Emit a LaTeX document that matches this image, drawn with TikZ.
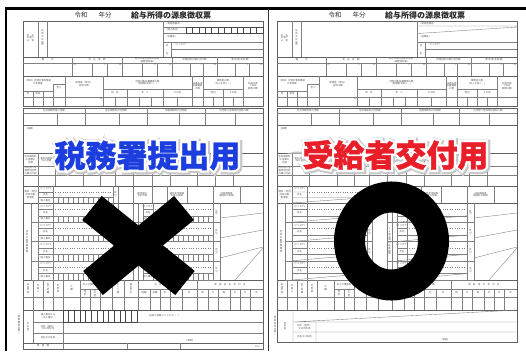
\documentclass[tikz,border=0pt]{standalone}
\usepackage{fontspec}
\newfontfamily\cjk{Noto Sans CJK JP}
\newfontfamily\cjkheavy{Noto Sans CJK JP}[BoldFeatures={FakeBold=1.1}]
\newfontfamily\cjkhalo{Noto Sans CJK JP}[BoldFeatures={FakeBold=16}]
\newfontfamily\cjkshade{Noto Sans CJK JP}[BoldFeatures={FakeBold=23}]
\usetikzlibrary{calc}
\tikzset{
  gl/.style={draw=black!50, line width=0.38pt},
  go/.style={draw=black!62, line width=0.5pt},
  gd/.style={draw=black!50, line width=0.38pt, dotted},
  gb/.style={draw=black!72, line width=0.6pt},
  tx/.style={font=\cjk\fontsize{2.4}{2.8}\selectfont, text=black!65, inner sep=0pt, align=center},
  ttl/.style={font=\cjk\fontsize{6.5}{7}\selectfont, text=black!80, inner sep=0pt},
  ttlb/.style={font=\cjk\bfseries\fontsize{8}{9}\selectfont, text=black!85, inner sep=0pt},
  bigtxt/.style={font=\fontsize{31}{31}\selectfont, inner sep=0pt},
  xbar/.style={line width=31pt, draw=black},
}
\newcommand{\halotext}[2]{%
  \makebox[0pt][l]{\kern1pt\raisebox{-1pt}{\cjkshade\bfseries\color{black!22}#2}}%
  \makebox[0pt][l]{\cjkhalo\bfseries\color{white}#2}%
  {\cjkheavy\bfseries\color[RGB]{#1}#2}%
}
\newcommand{\boxrow}[6][gl]{%
  \pgfmathtruncatemacro\nn{#4-1}%
  \foreach \k in {1,...,\nn}{\draw[#1] ({#2+(#3-#2)*\k/#4},#5)--({#2+(#3-#2)*\k/#4},#6);}%
}
\newcommand{\formgrid}[1]{%
\node[ttl] (#1t1) at (58,15) {令和};
\node[ttl] (#1t2) at (82,15) {年分};
\node[ttlb] (#1t3) at (148,15) {給与所得の源泉徴収票};
% top block
\draw[go] (0,21) rectangle (240,57);
\draw[gl] (15,21)--(15,57) (24,21)--(24,57) (140,21)--(140,57) (140,42)--(240,42) (148,42)--(148,57) (148,49.5)--(240,49.5);
\node[tx] (#1a1) at (7.5,38) {支　払\\を受け\\る　者};
\node[tx] (#1a2) at (19.5,38) {住\\所\\又\\は\\居\\所};
\node[tx,anchor=west] (#1a3) at (142,23.8) {（受給者番号）};
\node[tx,anchor=west] (#1a4) at (142,36.5) {（役職名）};
\node[tx] (#1a5) at (144,45.8) {氏};
\node[tx] (#1a6) at (144,53.2) {名};
\node[tx,anchor=west] (#1a7) at (150,44.6) {（フリガナ）};
% row 2
\draw[go] (0,57) rectangle (240,76);
\draw[gl] (0,63)--(240,63) (49,57)--(49,76) (99,57)--(99,76) (149,57)--(149,76) (194,57)--(194,76);
\foreach \a/\b in {49/99,99/149,149/194,194/240}{%
  \draw[gl] ({\a+(\b-\a)*0.4},63)--({\a+(\b-\a)*0.4},76) ({\a+(\b-\a)*0.7},63)--({\a+(\b-\a)*0.7},76);
  \node[tx] (#1en\a) at ({\b-2},65) {円};
  \node[tx] (#1sen\a) at ({\a+(\b-\a)*0.7-2},65) {千};}
\node[tx] (#1b1) at (24.5,60) {種　　　別};
\node[tx] (#1b2) at (74,60) {支　払　金　額};
\node[tx] (#1b3) at (124,60) {給与所得控除後の金額\\（調整控除後）};
\node[tx] (#1b4) at (171.5,60) {所得控除の額の合計額};
\node[tx] (#1b5) at (217,60) {源 泉 徴 収 税 額};
\node[tx] (#1b6) at (51.5,65) {内};
% row 3
\draw[go] (0,76) rectangle (240,106);
\draw[gl] (0,97)--(240,97) (42,76)--(42,106) (80,76)--(80,106) (169,76)--(169,106) (180,76)--(180,106) (220,76)--(220,106)
  (80,89)--(169,89) (104,89)--(104,106) (140,89)--(140,106) (180,89)--(220,89) (200,89)--(200,106)
  (30,84)--(42,84) (30,84)--(30,106) (0,91)--(30,91) (10,91)--(10,106) (20,91)--(20,106)
  (92,97)--(92,106) (116,97)--(116,106) (128,97)--(128,106) (154,97)--(154,106) (190,97)--(190,106) (210,97)--(210,106);
\node[tx] (#1c1) at (15,82) {（源泉）控除対象配偶者\\の有無等};
\node[tx] (#1c2) at (36,87.5) {老人};
\node[tx] (#1c3) at (5,94) {有};
\node[tx] (#1c4) at (15,94) {従有};
\node[tx] (#1c5) at (61,84) {配偶者（特別）\\控除の額};
\node[tx] (#1c6) at (124.5,82.5) {控除対象扶養親族の数\\（配偶者を除く。）};
\node[tx] (#1c7) at (92,93) {特　定};
\node[tx] (#1c8) at (122,93) {老　人};
\node[tx] (#1c9) at (154.5,93) {その他};
\node[tx] (#1c10) at (174.5,86) {16歳未満\\扶養親族\\の数};
\node[tx] (#1c11) at (200,82.5) {障害者の数\\（本人を除く。）};
\node[tx] (#1c12) at (190,93) {特別};
\node[tx] (#1c13) at (210,93) {その他};
\node[tx] (#1c14) at (230,86) {非居住者\\である\\親族の数};
\node[tx] (#1c15) at (78,99) {円};
% row 4
\draw[gl] (0,108)--(240,108);
\draw[go] (0,108) rectangle (240,125);
\draw[gl] (0,113)--(240,113) (62,108)--(62,125) (124,108)--(124,125) (182,108)--(182,125)
  (34,113)--(34,125) (96,113)--(96,125) (156,113)--(156,125) (212,113)--(212,125);
\node[tx] (#1d1) at (31,110.5) {社会保険料等の金額};
\node[tx] (#1d2) at (93,110.5) {生命保険料の控除額};
\node[tx] (#1d3) at (153,110.5) {地震保険料の控除額};
\node[tx] (#1d4) at (211,110.5) {住宅借入金等特別控除の額};
% row 5
\draw[go] (0,125) rectangle (240,153);
\node[tx,anchor=north west] (#1e1) at (2,127) {（摘要）};
% row 6
\draw[go] (0,153) rectangle (240,186);
\draw[gl] (0,166)--(240,166) (0,175.5)--(240,175.5);
\foreach \x in {15,32,60,77,92,110,129,147,174,192,210}{\draw[gl] (\x,153)--(\x,186);}
\node[tx] (#1f1) at (7.5,159.5) {生命保険料\\の金額の\\内訳};
\node[tx] (#1f2) at (23.5,159.5) {新生命保険\\料の金額};
\node[tx] (#1f3) at (7.5,170.8) {住宅借入金\\等特別控除\\の額の内訳};
% row 7
\draw[go] (0,186) rectangle (240,203);
\foreach \x in {15,30,90,95,110,129,144,164,190,217}{\draw[gl] (\x,186)--(\x,203);}
\node[tx] (#1g1) at (7.5,194.5) {（源泉・特別）\\控除対象\\配偶者};
\node[tx] (#1g2) at (92.5,194.5) {区\\分};
\node[tx] (#1g3) at (119.5,194.5) {配偶者の\\合計所得};
\node[tx] (#1g4) at (154,194.5) {国民年金保険\\料等の金額};
\node[tx] (#1g5) at (203.5,194.5) {旧長期損害\\保険料の金額};
% row 8
\draw[go] (0,203) rectangle (240,280);
\foreach \x in {8,15,30,90,95,110,115,120,130,190,197}{\draw[gl] (\x,203)--(\x,280);}
\node[tx] (#1h1) at (4,241.5) {控\\除\\対\\象\\扶\\養\\親\\族};
\node[tx] (#1h2) at (112.5,241.5) {1\\6\\歳\\未\\満\\の\\扶\\養\\親\\族};
\draw[gl] (197,218)--(240,213) (197,238)--(240,230) (197,258)--(240,247) (212,280)--(240,248);
% row 9
\draw[go] (0,280) rectangle (240,310);
\draw[gl] (0,297)--(240,297) (57,289)--(77,289) (115,289)--(240,289);
\foreach \x in {10,20,30,40,57,77,89,101,115,174}{\draw[gl] (\x,280)--(\x,310);}
\foreach \x in {67,127,137,147,159,185,195,207,217,227}{\draw[gl] (\x,289)--(\x,310);}
\node[tx] (#1i1) at (5,288.5) {未\\成\\年\\者};
\node[tx] (#1i2) at (15,288.5) {外\\国\\人};
\node[tx] (#1i3) at (25,288.5) {死\\亡\\退\\職};
\node[tx] (#1i4) at (35,288.5) {災\\害\\者};
\node[tx] (#1i5) at (48.5,288.5) {乙\\欄};
\node[tx] (#1i6) at (67,284.5) {本人が障害者};
\node[tx] (#1i7) at (62,293) {特\\別};
\node[tx] (#1i8) at (72,293) {そ\\の\\他};
\node[tx] (#1i9) at (83,288.5) {寡\\婦};
\node[tx] (#1i10) at (95,288.5) {ひ\\と\\り\\親};
\node[tx] (#1i11) at (108,288.5) {勤\\労\\学\\生};
\node[tx] (#1i12) at (144.5,284.5) {中　途　就　・　退　職};
\node[tx] (#1i13) at (121,293) {就職};
\node[tx] (#1i14) at (132,293) {退職};
\node[tx] (#1i15) at (142,293) {年};
\node[tx] (#1i16) at (153,293) {月};
\node[tx] (#1i17) at (166,293) {日};
\node[tx] (#1i18) at (207,284.5) {受　給　者　生　年　月　日};
\node[tx] (#1i19) at (179.5,293) {明};
\node[tx] (#1i20) at (190,293) {大};
\node[tx] (#1i21) at (201,293) {昭};
\node[tx] (#1i22) at (212,293) {平};
\node[tx] (#1i23) at (222,293) {令};
\node[tx] (#1i24) at (233.5,293) {年};
}
\begin{document}
\begin{tikzpicture}[x=1pt,y=-1pt]
\useasboundingbox (0,0) rectangle (526,351);
\fill[white] (0,0) rectangle (526,351);
% ---------- left form
\begin{scope}[shift={(23,0)}]
\formgrid{L}
\draw[gl] (140,27)--(240,27) (140,33)--(240,33);
\draw[gb] (163,27) rectangle (240,33);
\boxrow[gb]{163}{240}{12}{27}{33}
\node[tx,anchor=west] (Lp1) at (142,30) {（個人番号）};
% spouse row
\draw[gl] (15,192)--(30,192) (15,197.5)--(90,197.5);
\draw[gd] (30,192)--(90,192);
\boxrow{30}{90}{12}{197.5}{203}
\node[tx] (Lg6) at (22.5,189) {（フリガナ）};
\node[tx] (Lg7) at (22.5,194.8) {氏名};
\node[tx] (Lg8) at (22.5,200.3) {個人番号};
% dependents
\foreach \i in {0,1,2,3}{%
  \pgfmathsetmacro\ya{203+19.25*\i}
  \pgfmathsetmacro\yb{\ya+6.4}
  \pgfmathsetmacro\yc{\ya+12.8}
  \pgfmathsetmacro\yd{\ya+19.25}
  \draw[gl] (8,\yd)--(95,\yd) (110,\yd)--(197,\yd);
  \draw[gl] (15,\yb)--(30,\yb) (15,\yc)--(90,\yc) (120,\yb)--(130,\yb) (120,\yc)--(190,\yc);
  \draw[gd] (30,\yb)--(90,\yb) (130,\yb)--(190,\yb);
  \boxrow{30}{90}{12}{\yc}{\yd}
  \boxrow{130}{190}{12}{\yc}{\yd}
  \node[tx] (Lq\i) at (22.5,{\ya+3.2}) {（フリガナ）};
  \node[tx] (Lr\i) at (22.5,{\yb+3.2}) {氏名};
  \node[tx] (Ls\i) at (22.5,{\yc+3.2}) {個人番号};
  \node[tx] (Lt\i) at (125,{\ya+3.2}) {（フリガナ）};
  \node[tx] (Lu\i) at (125,{\yb+3.2}) {氏名};
  \node[tx] (Lv\i) at (125,{\yc+3.2}) {個人番号};
  \node[tx] (Lw\i) at (92.5,{\ya+9.6}) {区\\分};
  \node[tx] (Lx\i) at (193.5,{\ya+9.6}) {区\\分};
}
% payer
\draw[go] (0,310) rectangle (240,343);
\draw[gl] (10,310)--(10,343) (40,310)--(40,343) (10,322)--(240,322) (10,333)--(240,333);
\draw[gb] (40,310) rectangle (114,322);
\boxrow[gb]{40}{114}{13}{310}{322}
\node[tx] (Lj1) at (5,326.5) {支\\払\\者};
\node[tx] (Lj2) at (25,316) {個人番号又は\\法人番号};
\node[tx] (Lj3) at (25,327.5) {住所（居所）\\又は所在地};
\node[tx] (Lj4) at (25,338) {氏名又は名称};
\node[tx,anchor=west] (Lj5) at (124,316) {（右詰で記載してください。）};
\node[tx] (Lj6) at (167,340.5) {（電話）};
\draw[go] (0,343) rectangle (240,349);
\draw[gl] (40,343)--(40,349) (104,343)--(104,349) (157,343)--(157,349);
\node[tx] (Lk1) at (20,346) {整　理　欄};
\node[tx] (Lk2) at (234,346.5) {375};
\node[tx] (Lk3) at (-4,324) {（\\税\\務\\署\\提\\出\\用\\）};
\end{scope}
% ---------- right form
\begin{scope}[shift={(277,0)}]
\formgrid{R}
\draw[gl] (140,26)--(240,26) (141,33.5)--(240,27);
\draw[gl] (15,192)--(30,192) (15,197.5)--(90,197.5) (15,203)--(90,197.5);
\draw[gd] (30,192)--(90,192);
\node[tx] (Rg6) at (22.5,189) {（フリガナ）};
\node[tx] (Rg7) at (22.5,194.8) {氏名};
\foreach \i in {0,1,2,3}{%
  \pgfmathsetmacro\ya{203+19.25*\i}
  \pgfmathsetmacro\yb{\ya+6.4}
  \pgfmathsetmacro\yc{\ya+12.8}
  \pgfmathsetmacro\yd{\ya+19.25}
  \draw[gl] (8,\yd)--(95,\yd) (110,\yd)--(197,\yd);
  \draw[gl] (15,\yb)--(30,\yb) (15,\yc)--(90,\yc) (120,\yb)--(130,\yb) (120,\yc)--(190,\yc);
  \draw[gd] (30,\yb)--(90,\yb) (130,\yb)--(190,\yb);
  \draw[gl] (15,\yd)--(90,\yc) (120,\yd)--(190,\yc);
  \node[tx] (Rq\i) at (22.5,{\ya+3.2}) {（フリガナ）};
  \node[tx] (Rr\i) at (22.5,{\yb+3.2}) {氏名};
  \node[tx] (Rt\i) at (125,{\ya+3.2}) {（フリガナ）};
  \node[tx] (Ru\i) at (125,{\yb+3.2}) {氏名};
  \node[tx] (Rw\i) at (92.5,{\ya+9.6}) {区\\分};
  \node[tx] (Rx\i) at (193.5,{\ya+9.6}) {区\\分};
}
\draw[go] (0,310) rectangle (240,342);
\draw[gl] (16,310)--(16,342) (39,322)--(39,342) (16,322)--(240,322) (16,332)--(240,332) (16,322)--(240,310);
\node[tx] (Rj1) at (8,326) {支\\払\\者};
\node[tx] (Rj3) at (27.5,327) {住所（居所）\\又は所在地};
\node[tx] (Rj4) at (27.5,337) {氏名又は名称};
\node[tx] (Rj6) at (168,340) {（電話）};
\node[tx] (Rk3) at (-2,325) {（\\受\\給\\者\\交\\付\\用\\）};
\end{scope}
% ---------- frame
\draw[line width=2.6pt] (5,8.5) -- (526,8.5);
\draw[line width=2.6pt] (6,7.2) -- (6,351);
\draw[black!80,line width=1.7pt] (268.6,8.5) -- (268.6,351);
% ---------- big labels
\node[bigtxt] (Lbig) at (147.5,156) {\halotext{28,62,222}{税務署提出用}};
\node[bigtxt] (Rbig) at (395.5,155.5) {\halotext{232,30,40}{受給者交付用}};
% ---------- marks
\draw[xbar] (92,208) -- (185,283);
\draw[xbar] (184,208) -- (93,283);
\draw[line width=31pt] (391.5,241) ellipse [x radius=42, y radius=44];
\end{tikzpicture}
\end{document}
